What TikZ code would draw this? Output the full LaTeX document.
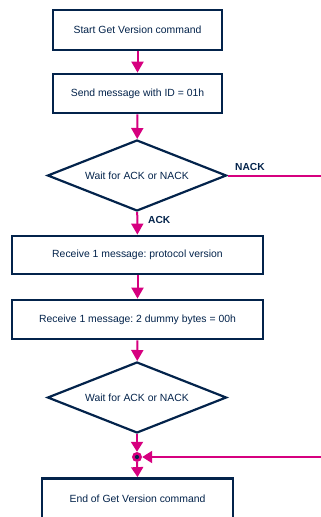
\documentclass[tikz,border=0pt]{standalone}
\usepackage{fontspec}
\setmainfont{Liberation Sans}
\usetikzlibrary{shapes.geometric,arrows.meta}
\frenchspacing
\definecolor{stblue}{HTML}{03234B}
\definecolor{stpink}{HTML}{D6007F}
\tikzset{
  stepbox/.style={draw=stblue, line width=2.8pt, fill=white, text=stblue,
    font=\fontsize{10.4}{12}\selectfont, inner sep=0pt},
  choice/.style={diamond, aspect=2.52, draw=stblue, line width=2.2pt, fill=white,
    text=stblue, font=\fontsize{10.4}{12}\selectfont, inner sep=0pt,
    minimum width=179pt, minimum height=71pt},
  flow/.style={draw=stpink, line width=2pt,
    -{Triangle[width=12pt,length=11pt]}},
  branch/.style={text=stblue, font=\bfseries\fontsize{10.2}{12}\selectfont, inner sep=0pt},
}
\begin{document}
\begin{tikzpicture}[x=1pt, y=-1pt]
\useasboundingbox (0,0) rectangle (321,517);

\node[stepbox, minimum width=169pt, minimum height=40pt] (start) at (137.5,30)
  {Start Get Version command};
\node[stepbox, minimum width=169pt, minimum height=39pt] (send) at (137.5,93.5)
  {Send message with ID = 01h};
\node[choice] (wait1) at (137,175.5) {Wait for ACK or NACK};
\node[stepbox, minimum width=251pt, minimum height=38pt] (proto) at (137.5,255)
  {Receive 1 message: protocol version};
\node[stepbox, minimum width=251pt, minimum height=39pt] (dummy) at (137.5,319.5)
  {Receive 1 message: 2 dummy bytes = 00h};
\node[choice] (wait2) at (137,397.5) {Wait for ACK or NACK};
\node[stepbox, minimum width=191pt, minimum height=40pt] (finish) at (137.5,498.5)
  {End of Get Version command};

% junction where the NACK path rejoins
\node[circle, fill=stpink, minimum size=10pt, inner sep=0pt] (join) at (137,457) {};
\fill[stblue] (join.center) circle (2.1pt);

\coordinate (nackout) at (321,175.5);
\coordinate (nackin) at (321,457);

\draw[flow] (start) -- (send);
\draw[flow] (send) -- (wait1);
\draw[flow] (wait1) -- (proto);
\draw[flow] (proto) -- (dummy);
\draw[flow] (dummy) -- (wait2);
\draw[flow, -{Triangle[width=12pt,length=10pt]}] (wait2.south) -- (join.north);
\draw[flow, -{Triangle[width=12pt,length=10pt]}] (join.south) -- (finish.north);
\draw[flow, -{Triangle[width=12pt,length=10pt]}] (nackin) -- (join.east);
\draw[stpink, line width=2pt] (wait1.east) -- (nackout);

\node[branch, anchor=west] (nacklbl) at (235,167) {NACK};
\node[branch, anchor=west] (acklbl) at (148,219.5) {ACK};
\end{tikzpicture}
\end{document}
